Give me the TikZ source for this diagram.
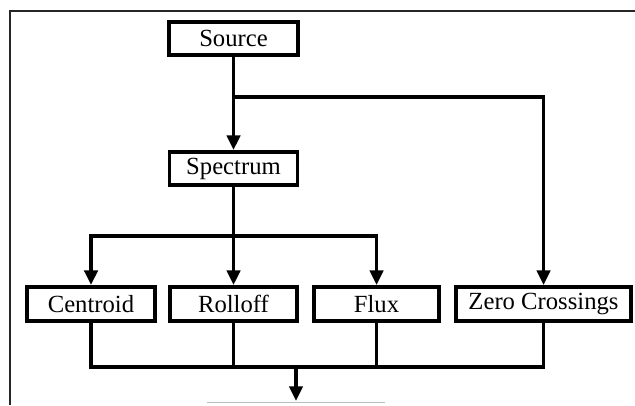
\documentclass[tikz,border=0pt]{standalone}
\usepackage{fontspec}
\setmainfont{Liberation Serif}
\usetikzlibrary{arrows.meta}
\tikzset{
  block/.style={draw=black, line width=2.7pt, fill=white, inner sep=0pt,
    minimum height=25pt, font=\fontsize{18.5}{20}\selectfont},
  wire/.style={line width=2.5pt},
  feed/.style={wire, -{Triangle[length=11pt, width=10pt]}},
  frameline/.style={line width=1.2pt, black!85}
}
\begin{document}
% one unit = one pixel of a 635 x 405 canvas, y growing downwards
\begin{tikzpicture}[x=0.75pt, y=-0.75pt]
  \useasboundingbox (0,0) rectangle (635,405);
  \fill[white] (0,0) rectangle (635,405);

  % open frame: left and top edges
  \draw[frameline] (10,405) -- (10,11) -- (635,11);

  % blocks
  \node[block, minimum width=97pt]    (src)  at (233.5,38.5)  {Source};
  \node[block, minimum width=96.25pt] (spec) at (233.5,168.5) {Spectrum};
  \node[block, minimum width=96.25pt, minimum height=25.75pt] (cen)  at (91,304)    {Centroid};
  \node[block, minimum width=95.5pt,  minimum height=25.75pt] (roll) at (233.5,304) {Rolloff};
  \node[block, minimum width=94pt,    minimum height=25.75pt] (flux) at (376.5,304) {Flux};
  \node[block, minimum width=131.5pt, minimum height=25.75pt] (zc)   at (543.5,304) {Zero Crossings};

  % branch points and the collecting bus
  \coordinate (srcfork)  at (233.5,97);
  \coordinate (specfork) at (233.5,236);
  \coordinate (bus)      at (296,367);
  \coordinate (busout)   at (296,401);

  % Source feeds Spectrum and Zero Crossings
  \draw[feed] (src.south) -- (spec.north);
  \draw[feed] (srcfork) -| (zc.north);

  % Spectrum feeds the three spectral features
  \draw[feed] (spec.south) -- (roll.north);
  \draw[feed] (specfork) -| (cen.north);
  \draw[feed] (specfork) -| (flux.north);

  % all features merge onto one bus
  \draw[wire] (cen.south) -- (cen.south |- bus) -- (zc.south |- bus) -- (zc.south);
  \draw[wire] (roll.south) -- (roll.south |- bus);
  \draw[wire] (flux.south) -- (flux.south |- bus);
  \draw[feed] (bus) -- (busout);

  % top edge of the next stage, cut off at the page border
  \draw[line width=1.2pt, black!25] (207,402.5) -- (385,402.5);
\end{tikzpicture}
\end{document}
